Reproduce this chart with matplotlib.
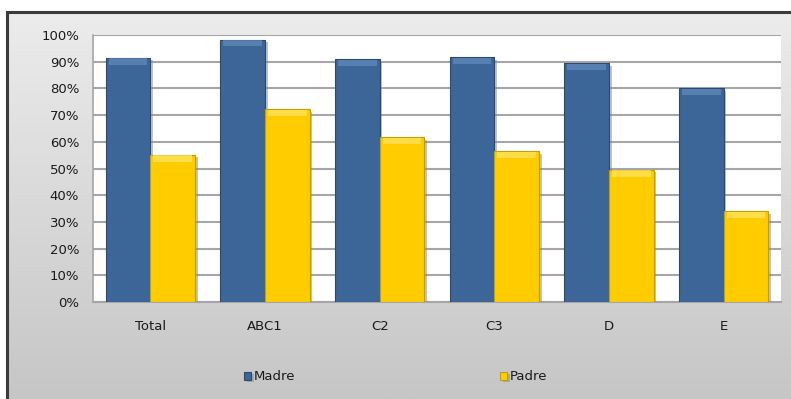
import numpy as np
import matplotlib.pyplot as plt
import matplotlib.patheffects as pe

# Data
categories = ['Total', 'ABC1', 'C2', 'C3', 'D', 'E']
madre = [91.5, 98.3, 91.0, 91.8, 89.6, 80.0]
padre = [55.2, 72.2, 61.8, 56.6, 49.6, 34.0]
yticks = [0, 10, 20, 30, 40, 50, 60, 70, 80, 90, 100]

blue = '#3C6698'
blue_edge = '#2A4A72'
blue_top = '#6A92C4'
yellow = '#FFCC00'
yellow_edge = '#C79E00'
yellow_top = '#FFE566'

fig = plt.figure(figsize=(7.91, 3.99), dpi=100)
fig.patch.set_facecolor('white')

#------------------------------------------------------------------------------
# Chart frame with grey gradient background
bg = fig.add_axes([7/791, 0, 790/791, 387/399])
grad = np.linspace(0, 1, 256).reshape(-1, 1)
bg.imshow(grad, aspect='auto', cmap=plt.matplotlib.colors.LinearSegmentedColormap.from_list(
    'bg', ['#ececec', '#c6c6c6']), extent=[0, 1, 0, 1], origin='upper')
bg.set_xlim(0, 1)
bg.set_ylim(0, 1)
bg.set_xticks([])
bg.set_yticks([])
for side in ['left', 'top']:
    bg.spines[side].set_color('#3a3a3a')
    bg.spines[side].set_linewidth(2.2)
for side in ['right', 'bottom']:
    bg.spines[side].set_visible(False)

#------------------------------------------------------------------------------
# Plot area
ax = fig.add_axes([93/791, 1 - 302/399, 688/791, 267/399])
ax.set_facecolor('white')

x = np.arange(len(categories))
w = 0.39
shadow = [pe.SimplePatchShadow(offset=(2, -2), shadow_rgbFace='#888888', alpha=0.5), pe.Normal()]

ax.bar(x - w/2, madre, w, color=blue, edgecolor=blue_edge, linewidth=0.8,
       zorder=3, path_effects=shadow, label='Madre')
ax.bar(x + w/2, padre, w, color=yellow, edgecolor=yellow_edge, linewidth=0.8,
       zorder=3, path_effects=shadow, label='Padre')

# bevel highlight on top of each bar
ax.bar(x - w/2, [2.3] * len(madre), w * 0.86, bottom=np.array(madre) - 2.6,
       color=blue_top, alpha=0.6, linewidth=0, zorder=4)
ax.bar(x + w/2, [2.3] * len(padre), w * 0.86, bottom=np.array(padre) - 2.6,
       color=yellow_top, alpha=0.7, linewidth=0, zorder=4)

ax.set_xlim(-0.5, len(categories) - 0.5)
ax.set_ylim(0, 100)
ax.set_yticks(yticks)
ax.set_yticklabels([f'{t}%' for t in yticks])
ax.set_xticks(x)
ax.set_xticklabels(categories)
ax.yaxis.grid(True, color='#a6a6a6', linewidth=1.5, zorder=0)
ax.set_axisbelow(True)
ax.tick_params(axis='both', length=0, labelsize=9.5, colors='#1a1a1a')
ax.tick_params(axis='x', pad=13)
ax.tick_params(axis='y', pad=10)
for side in ['top', 'right']:
    ax.spines[side].set_visible(False)
ax.spines['left'].set_color('#a6a6a6')
ax.spines['bottom'].set_color('#a6a6a6')
ax.spines['left'].set_linewidth(1.2)
ax.spines['bottom'].set_linewidth(1.5)

leg = ax.legend(loc='center', bbox_to_anchor=(0.44, -0.28), ncol=2, frameon=False,
                fontsize=9.5, handlelength=0.55, handleheight=0.55, handletextpad=0.2,
                columnspacing=15.5)
for t in leg.get_texts():
    t.set_color('#1a1a1a')

fig.savefig('out.png', dpi=100)
